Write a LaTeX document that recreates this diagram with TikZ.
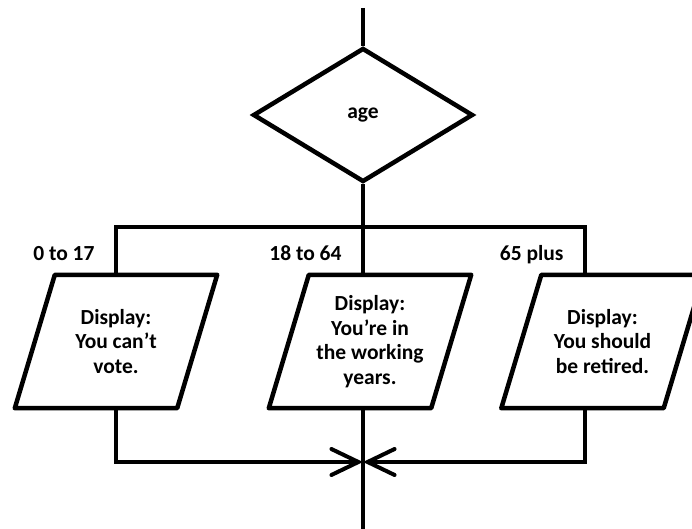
\documentclass[tikz,border=0pt]{standalone}
\usepackage{fontspec}
\setmainfont{Carlito}
\usetikzlibrary{shapes.geometric, arrows.meta}

\begin{document}
\begin{tikzpicture}[x=1pt, y=-1pt,
  every node/.style={font=\fontsize{21.5}{24.5}\selectfont\bfseries},
  decision/.style={draw, diamond, line width=4.5pt, minimum width=220pt, minimum height=134pt, inner sep=0pt},
  iobox/.style={rectangle, minimum width=162pt, minimum height=133pt, align=center, inner sep=0pt},
  ioedge/.style={line width=4.5pt, line join=round},
  flow/.style={line width=4pt},
  merge/.style={flow, -{Straight Barb[length=27pt, width=26pt, line cap=round]}}]
\useasboundingbox (0,0) rectangle (692,529);

% Decision
\node[decision] (age) at (363,115) {age};

% Outputs
\node[iobox] (young) at (116,341.5) {Display:\\You can’t\\vote.};
\node[iobox] (work) at (370,341.5) {Display:\\You’re in\\the working\\years.};
\node[iobox] (old) at (602.5,341.5) {Display:\\You should\\be retired.};

% Slanted borders of the outputs
\foreach \out in {young, work, old}
  \draw[ioedge] ([xshift=20pt]\out.north west) -- ([xshift=20pt]\out.north east)
    -- ([xshift=-20pt]\out.south east) -- ([xshift=-20pt]\out.south west) -- cycle;

% Branch labels
\node[anchor=base east] (lyoung) at (98,260) {0 to 17};
\node[anchor=base east] (lwork) at (345,260) {18 to 64};
\node[anchor=base east] (lold) at (567,260) {65 plus};

% Branch points
\coordinate (entry) at (363,8);
\coordinate (bl) at (116,227);
\coordinate (br) at (585,227);
\coordinate (ml) at (116,462);
\coordinate (mr) at (585,462);
\coordinate (join) at (363,462);
\coordinate (exit) at (363,529);

% Into the decision
\draw[flow] (entry) -- (age.north);

% Split
\draw[flow] (age.south) -- (age.south |- work.north);
\draw[flow] (bl |- young.north) -- (bl) -- (br) -- (br |- old.north);

% Merge
\draw[merge] (young.south) -- (ml) -- (join);
\draw[merge] (mr |- old.south) -- (mr) -- (join);
\draw[flow] (age.south |- work.south) -- (exit);
\end{tikzpicture}
\end{document}
